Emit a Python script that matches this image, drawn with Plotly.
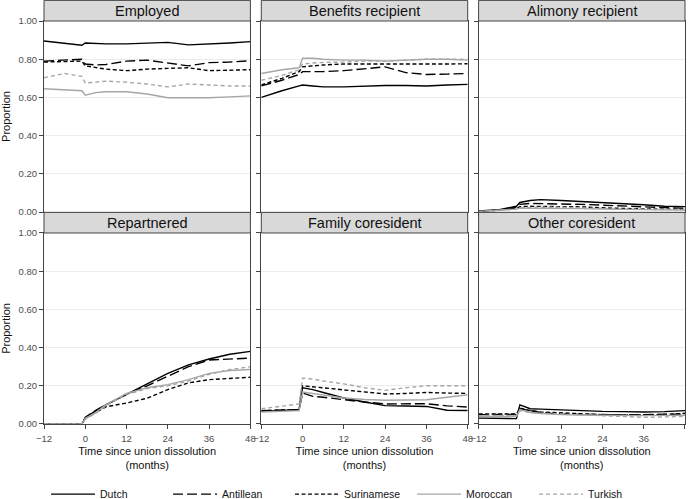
import plotly.graph_objects as go
from plotly.subplots import make_subplots

months = [-12, -6, -1, 0, 3, 6, 12, 18, 24, 30, 36, 42, 48]
groups = ["Dutch", "Antillean", "Surinamese", "Moroccan", "Turkish"]
panels = ["Employed", "Benefits recipient", "Alimony recipient",
          "Repartnered", "Family coresident", "Other coresident"]

employed = {
    "Dutch":      [.895, .885, .873, .885, .882, .880, .880, .883, .888, .875, .878, .885, .892],
    "Antillean":  [.790, .795, .800, .775, .770, .772, .790, .795, .780, .765, .782, .785, .792],
    "Surinamese": [.785, .787, .790, .765, .755, .748, .740, .748, .752, .755, .740, .742, .745],
    "Moroccan":   [.645, .640, .635, .612, .625, .630, .630, .618, .598, .598, .598, .603, .608],
    "Turkish":    [.703, .725, .710, .675, .680, .685, .680, .670, .655, .670, .665, .660, .660],
}
benefits = {
    "Dutch":      [.600, .635, .660, .665, .660, .655, .655, .660, .662, .662, .660, .665, .668],
    "Antillean":  [.660, .690, .720, .735, .735, .735, .740, .750, .760, .730, .720, .722, .725],
    "Surinamese": [.665, .700, .735, .760, .765, .770, .775, .775, .772, .775, .775, .775, .776],
    "Moroccan":   [.725, .745, .755, .805, .805, .800, .795, .795, .790, .795, .800, .800, .795],
    "Turkish":    [.690, .715, .745, .775, .780, .783, .785, .790, .790, .795, .800, .800, .800],
}
alimony = {
    "Dutch":      [.005, .012, .030, .050, .060, .065, .060, .055, .050, .045, .038, .030, .028],
    "Antillean":  [.003, .010, .025, .040, .045, .045, .042, .040, .035, .030, .027, .023, .020],
    "Surinamese": [.005, .010, .020, .028, .030, .030, .030, .027, .022, .018, .016, .015, .015],
    "Moroccan":   [.003, .008, .015, .020, .020, .020, .020, .018, .015, .013, .012, .010, .010],
    "Turkish":    [.003, .008, .015, .022, .025, .025, .025, .020, .018, .015, .013, .012, .012],
}
repartnered = {
    "Dutch":      [0, 0, 0, .030, .070, .100, .157, .210, .265, .310, .340, .365, .380],
    "Antillean":  [0, 0, 0, .035, .070, .100, .155, .200, .250, .300, .335, .340, .345],
    "Surinamese": [0, 0, 0, .030, .060, .090, .110, .135, .180, .215, .232, .237, .245],
    "Moroccan":   [0, 0, 0, .030, .060, .100, .160, .190, .206, .232, .265, .280, .285],
    "Turkish":    [0, 0, 0, .025, .055, .095, .155, .185, .200, .225, .260, .285, .300],
}
family = {
    "Dutch":      [.066, .070, .075, .190, .180, .165, .136, .115, .096, .094, .092, .072, .071],
    "Antillean":  [.070, .072, .075, .162, .145, .140, .127, .115, .105, .105, .106, .095, .089],
    "Surinamese": [.070, .072, .075, .200, .195, .190, .180, .168, .157, .160, .165, .162, .160],
    "Moroccan":   [.063, .066, .070, .167, .160, .150, .136, .128, .124, .126, .127, .140, .153],
    "Turkish":    [.080, .092, .105, .240, .235, .225, .210, .190, .176, .190, .200, .200, .200],
}
other = {
    "Dutch":      [.031, .029, .028, .100, .080, .078, .073, .070, .066, .065, .063, .065, .070],
    "Antillean":  [.049, .050, .050, .080, .070, .060, .052, .050, .050, .048, .049, .050, .052],
    "Surinamese": [.052, .052, .052, .084, .070, .063, .057, .053, .049, .048, .047, .050, .056],
    "Moroccan":   [.040, .040, .040, .075, .060, .055, .049, .047, .045, .044, .044, .045, .046],
    "Turkish":    [.044, .044, .045, .070, .060, .056, .052, .045, .040, .037, .035, .037, .040],
}
panel_data = [employed, benefits, alimony, repartnered, family, other]

x_ticks = [-12, 0, 12, 24, 36, 48]
y_ticks = [0, 0.2, 0.4, 0.6, 0.8, 1.0]

styles = {
    "Dutch":      dict(color="#000000", dash="solid"),
    "Antillean":  dict(color="#000000", dash="10px,4px"),
    "Surinamese": dict(color="#000000", dash="4px,2.5px"),
    "Moroccan":   dict(color="#a6a6a6", dash="solid"),
    "Turkish":    dict(color="#a6a6a6", dash="4px,3px"),
}

fig = make_subplots(rows=2, cols=3, horizontal_spacing=0.017, vertical_spacing=0.052)

for i, data in enumerate(panel_data):
    r, c = i // 3 + 1, i % 3 + 1
    for g in groups:
        fig.add_trace(go.Scatter(
            x=months, y=data[g], mode="lines", name=g,
            line=dict(width=1.4, **styles[g]),
            showlegend=(i == 0), legendgroup=g,
        ), row=r, col=c)

axis_color = "#444444"
tick_font = dict(size=9.5, color="#4d4d4d")
for i in range(6):
    r, c = i // 3 + 1, i % 3 + 1
    fig.update_xaxes(range=[-12, 48], tickvals=x_ticks, showticklabels=(r == 2),
                     ticks="outside", ticklen=4, tickcolor=axis_color,
                     showline=True, linecolor=axis_color, linewidth=1, mirror=True,
                     showgrid=False, zeroline=False, tickfont=tick_font,
                     ticklabelstandoff=2,
                     row=r, col=c)
    if r == 2:
        fig.update_xaxes(title=dict(text="Time since union dissolution<br>(months)",
                                    font=dict(size=11, color="#111111"), standoff=3),
                         row=r, col=c)
    fig.update_yaxes(range=[0, 1], tickvals=y_ticks, tickformat=".2f",
                     showticklabels=(c == 1),
                     ticks="outside", ticklen=4, tickcolor=axis_color,
                     showline=True, linecolor=axis_color, linewidth=1, mirror=True,
                     showgrid=True, gridcolor="#ececec", gridwidth=1, zeroline=False,
                     tickfont=tick_font,
                     row=r, col=c)
    if c == 1:
        fig.update_yaxes(title=dict(text="Proportion", font=dict(size=11, color="#111111"),
                                    standoff=8), row=r, col=c)

    sfx = "" if i == 0 else str(i + 1)
    fig.add_shape(type="rect", xref=f"x{sfx} domain", yref=f"y{sfx} domain",
                  x0=0, x1=1, y0=1, y1=1.108, fillcolor="#d9d9d9",
                  line=dict(color=axis_color, width=1), layer="above")
    fig.add_annotation(text=panels[i], xref=f"x{sfx} domain", yref=f"y{sfx} domain",
                       x=0.5, y=1.054, showarrow=False, xanchor="center", yanchor="middle",
                       font=dict(size=14.5, color="#111111"))

fig.update_layout(
    width=689, height=499,
    margin=dict(l=44, r=4, t=21, b=75, autoexpand=False),
    plot_bgcolor="white", paper_bgcolor="white",
    font=dict(family="Liberation Sans, Arial, sans-serif", color="#111111"),
    legend=dict(orientation="h", x=0.479, xanchor="center", y=-0.174, yanchor="middle",
                font=dict(size=10.5), itemwidth=44, tracegroupgap=0,
                entrywidth=63, entrywidthmode="pixels"),
)

fig.write_html("out.html", config={"displayModeBar": False},
               post_script="document.body.style.margin='0px';")
